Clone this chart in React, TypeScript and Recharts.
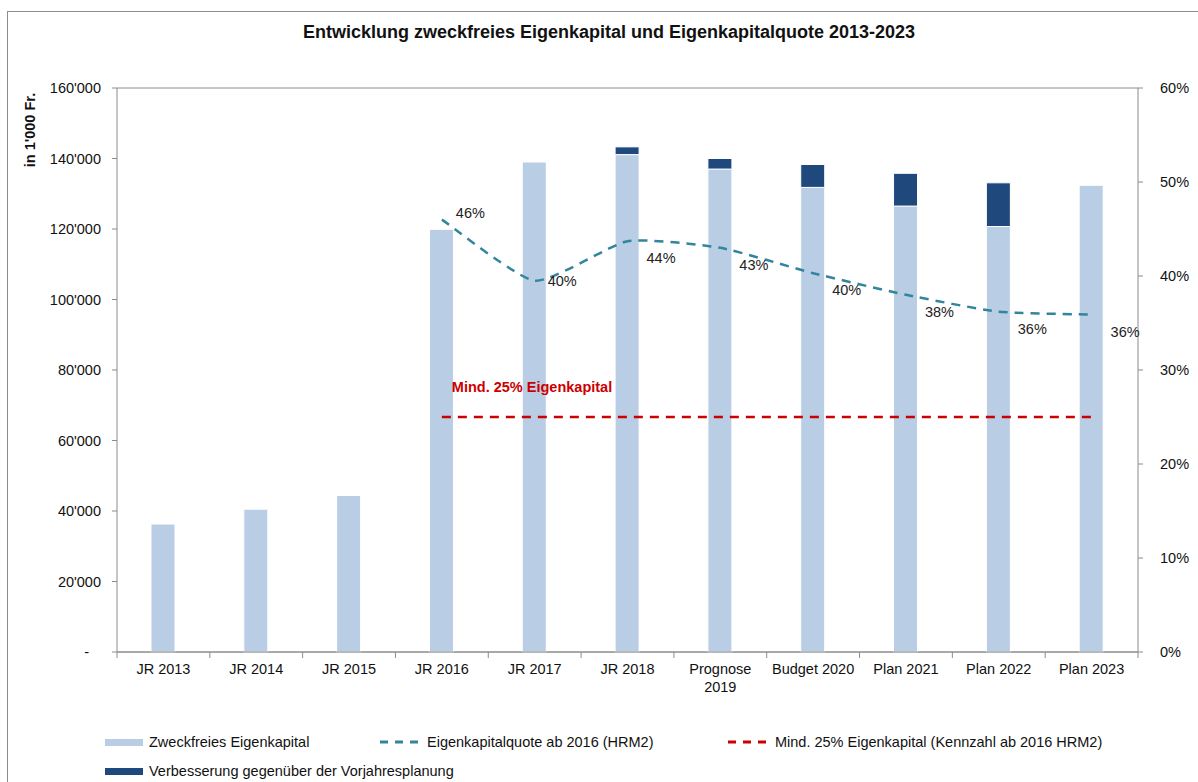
import React from "react";
import {
  ComposedChart, Bar, Line, XAxis, YAxis, CartesianGrid, LabelList,
} from "recharts";

// values
const categories = [
  "JR 2013", "JR 2014", "JR 2015", "JR 2016", "JR 2017", "JR 2018",
  "Prognose 2019", "Budget 2020", "Plan 2021", "Plan 2022", "Plan 2023",
];
const eigenkapital = [36300, 40500, 44400, 119900, 139000, 141100, 137000, 131800, 126500, 120700, 132400];
const verbesserung = [null, null, null, null, null, 2200, 3000, 6500, 9300, 12400, null];
const quote = [null, null, null, 46.0, 39.5, 43.7, 43.0, 40.3, 38.0, 36.2, 35.9];
const quoteLabels = ["", "", "", "46%", "40%", "44%", "43%", "40%", "38%", "36%", "36%"];
const minQuote = [null, null, null, 25, 25, 25, 25, 25, 25, 25, 25];
const leftTicks = [0, 20000, 40000, 60000, 80000, 100000, 120000, 140000, 160000];
const rightTicks = [0, 10, 20, 30, 40, 50, 60];

const LIGHT = "#b9cde5";
const DARK = "#1f497d";
const TEAL = "#31859c";
const RED = "#cc0000";
const GRID = "#8c8c8c";
const FONT = "'Liberation Sans', Arial, sans-serif";
const FS = 14.5;

const W = 1198;
const H = 782;
const PLOT_LEFT = 117;
const PLOT_RIGHT = 1138;
const BAND = (PLOT_RIGHT - PLOT_LEFT) / categories.length;

const data = categories.map((c, i) => ({
  name: c,
  base: eigenkapital[i],
  delta: verbesserung[i],
  quote: quote[i],
  quoteLabel: quoteLabels[i],
  minQuote: minQuote[i],
}));

// smoothed line close to Excel's: bezier with short tangents
const TENSION = 1 / 11;
const smoothCurve = (context: any) => {
  let pts: number[][] = [];
  return {
    areaStart() {},
    areaEnd() {},
    lineStart() {
      pts = [];
    },
    point(x: number, y: number) {
      pts.push([+x, +y]);
    },
    lineEnd() {
      if (!pts.length) return;
      context.moveTo(pts[0][0], pts[0][1]);
      for (let i = 0; i < pts.length - 1; i++) {
        const p0 = pts[i - 1] || pts[i];
        const p1 = pts[i];
        const p2 = pts[i + 1];
        const p3 = pts[i + 2] || p2;
        context.bezierCurveTo(
          p1[0] + (p2[0] - p0[0]) * TENSION, p1[1] + (p2[1] - p0[1]) * TENSION,
          p2[0] - (p3[0] - p1[0]) * TENSION, p2[1] - (p3[1] - p1[1]) * TENSION,
          p2[0], p2[1],
        );
      }
    },
  };
};

const fmtThousands = (v: number) =>
  v === 0 ? "-" : String(v).replace(/\B(?=(\d{3})+(?!\d))/g, "'");

const LeftTick = (props: any) => {
  const { x, y, payload } = props;
  const v = payload.value as number;
  return (
    <text x={v === 0 ? x - 21 : x - 9} y={y} dy={5} textAnchor="end" fontSize={FS} fill="#111" fontFamily={FONT}>
      {fmtThousands(v)}
    </text>
  );
};

const RightTick = (props: any) => {
  const { x, y, payload } = props;
  return (
    <text x={x + 15} y={y} dy={5} textAnchor="start" fontSize={FS} fill="#111" fontFamily={FONT}>
      {`${payload.value}%`}
    </text>
  );
};

const CatTick = (props: any) => {
  const { x, y, payload, index } = props;
  const label = payload.value as string;
  const lines = label.length > 12 ? label.split(" ") : [label];
  return (
    <g>
      <line x1={x - BAND / 2} x2={x - BAND / 2} y1={y - 8} y2={y - 2} stroke={GRID} />
      {index === categories.length - 1 && (
        <line x1={x + BAND / 2} x2={x + BAND / 2} y1={y - 8} y2={y - 2} stroke={GRID} />
      )}
      {lines.map((l, i) => (
        <text key={i} x={x} y={y + 14 + i * 18} textAnchor="middle" fontSize={FS} fill="#111" fontFamily={FONT}>
          {l}
        </text>
      ))}
    </g>
  );
};

const QuoteLabel = (props: any) => {
  const { x, y, value, index } = props;
  if (!value) return null;
  const prev = quote[index - 1];
  const next = quote[index + 1];
  let dx = 19;
  let dy = 22;
  if (prev == null) {
    // first point: label beside, slightly above
    dx = 14;
    dy = -2;
  } else if (next != null && (quote[index] as number) < prev && (quote[index] as number) < next) {
    // local minimum
    dx = 13;
    dy = 5;
  }
  return (
    <text x={x + dx} y={y + dy} fontSize={FS} fill="#222" fontFamily={FONT}>
      {value}
    </text>
  );
};

const MinLabel = (props: any) => {
  const { x, y, index } = props;
  if (index !== 3) return null;
  return (
    <text x={x + 10} y={y - 25} fontSize={FS} fontWeight="bold" fill={RED} fontFamily={FONT}>
      Mind. 25% Eigenkapital
    </text>
  );
};

const legendRow1 = [
  { label: "Zweckfreies Eigenkapital", color: LIGHT, kind: "bar", x: 105 },
  { label: "Eigenkapitalquote ab 2016 (HRM2)", color: TEAL, kind: "dash", x: 380 },
  { label: "Mind. 25% Eigenkapital (Kennzahl ab 2016 HRM2)", color: RED, kind: "dash", x: 728 },
];
const legendRow2 = [
  { label: "Verbesserung gegenüber der Vorjahresplanung", color: DARK, kind: "bar", x: 105 },
];

function LegendItem({ item, top }: { item: any; top: number }) {
  return (
    <div style={{ position: "absolute", left: item.x, top, display: "flex", alignItems: "center", height: 20 }}>
      {item.kind === "bar" ? (
        <div style={{ width: 38, height: 7, background: item.color, marginRight: 6 }} />
      ) : (
        <svg width={44} height={6} style={{ marginRight: 3 }}>
          <line x1={0} x2={44} y1={3} y2={3} stroke={item.color} strokeWidth={3} strokeDasharray="8 7" />
        </svg>
      )}
      <span style={{ fontSize: FS, color: "#111", fontFamily: FONT, whiteSpace: "nowrap" }}>{item.label}</span>
    </div>
  );
}

export default function App() {
  return (
    <div style={{ position: "absolute", left: 0, top: 0, width: W, height: H, overflow: "hidden", background: "#fff", fontFamily: FONT }}>
      <div style={{ position: "absolute", left: 7, top: 11, width: 1400, height: 1000, border: "1px solid #8c8c8c" }} />
      <div style={{ position: "absolute", left: 0, top: 22, width: 1218, textAlign: "center", fontSize: 18, fontWeight: "bold", color: "#111" }}>
        Entwicklung zweckfreies Eigenkapital und Eigenkapitalquote 2013-2023
      </div>
      <div
        style={{
          position: "absolute", left: 30, top: 130, fontSize: 14.5, fontWeight: "bold", color: "#111",
          transform: "translate(-50%, -50%) rotate(-90deg)", whiteSpace: "nowrap",
        }}
      >
        in 1'000 Fr.
      </div>
      <div style={{ position: "absolute", left: 0, top: 0 }}>
        <ComposedChart
          width={W}
          height={H}
          data={data}
          margin={{ top: 88, right: 10, bottom: 100, left: PLOT_LEFT - 60 }}
          barCategoryGap={0}
        >
          <CartesianGrid vertical={false} stroke={GRID} />
          <XAxis
            dataKey="name"
            height={30}
            interval={0}
            tick={<CatTick />}
            tickLine={false}
            axisLine={{ stroke: GRID }}
          />
          <YAxis
            yAxisId="left"
            width={60}
            domain={[0, 160000]}
            ticks={leftTicks}
            tick={<LeftTick />}
            tickLine={{ stroke: GRID }}
            tickSize={5}
            axisLine={{ stroke: GRID }}
          />
          <YAxis
            yAxisId="right"
            orientation="right"
            width={50}
            domain={[0, 60]}
            ticks={rightTicks}
            tick={<RightTick />}
            tickLine={{ stroke: GRID }}
            tickSize={5}
            axisLine={{ stroke: GRID }}
          />
          <Bar yAxisId="left" dataKey="base" stackId="a" fill={LIGHT} stroke="#fff" strokeWidth={1} barSize={24} isAnimationActive={false} />
          <Bar yAxisId="left" dataKey="delta" stackId="a" fill={DARK} stroke="#fff" strokeWidth={1} barSize={24} isAnimationActive={false} />
          <Line
            yAxisId="right"
            dataKey="minQuote"
            type="linear"
            stroke={RED}
            strokeWidth={2.5}
            strokeDasharray="9 7"
            dot={false}
            activeDot={false}
            isAnimationActive={false}
          >
            <LabelList dataKey="minQuote" content={<MinLabel />} />
          </Line>
          <Line
            yAxisId="right"
            dataKey="quote"
            type={smoothCurve as any}
            stroke={TEAL}
            strokeWidth={2.5}
            strokeDasharray="9 7"
            dot={false}
            activeDot={false}
            isAnimationActive={false}
          >
            <LabelList dataKey="quoteLabel" content={<QuoteLabel />} />
          </Line>
        </ComposedChart>
      </div>
      {legendRow1.map((it) => (
        <LegendItem key={it.label} item={it} top={732} />
      ))}
      {legendRow2.map((it) => (
        <LegendItem key={it.label} item={it} top={761} />
      ))}
    </div>
  );
}
